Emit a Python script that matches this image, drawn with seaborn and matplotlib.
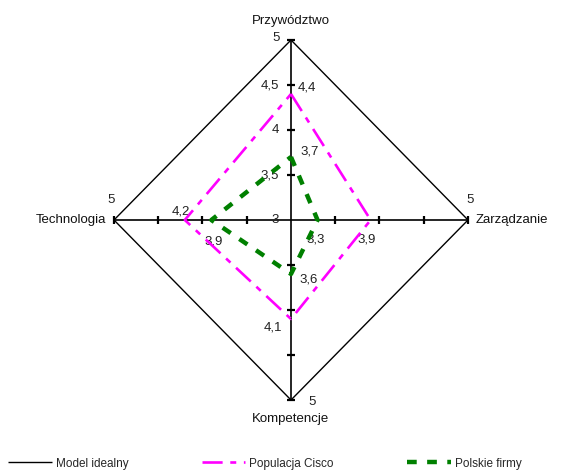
import numpy as np
import pandas as pd
import matplotlib
matplotlib.use("Agg")
import matplotlib.pyplot as plt
import seaborn as sns

# ---- data ----
categories = ["Przywództwo", "Zarządzanie", "Kompetencje", "Technologia"]
model_idealny = [5, 5, 5, 5]
populacja_cisco = [4.4, 3.9, 4.1, 4.2]
polskie_firmy = [3.7, 3.3, 3.6, 3.9]
series_names = ["Model idealny", "Populacja Cisco", "Polskie firmy"]
scale_ticks = [3, 3.5, 4, 4.5, 5]
scale_labels = ["3", "3,5", "4", "4,5", "5"]
r_min, r_max = 3, 5

sns.set_theme(style="white")
plt.rcParams["font.family"] = ["Liberation Sans", "DejaVu Sans"]
plt.rcParams["lines.scale_dashes"] = False

# axis directions: top, right, bottom, left
angles = np.array([np.pi / 2, 0.0, -np.pi / 2, np.pi])
dx, dy = np.cos(angles).round(6), np.sin(angles).round(6)


def to_xy(values):
    r = np.asarray(values, dtype=float) - r_min
    x = np.append(r * dx, r[0] * dx[0])
    y = np.append(r * dy, r[0] * dy[0])
    return x, y


fig = plt.figure(figsize=(5.74, 4.70), dpi=100)
ax = fig.add_axes([0, 0, 1, 1])
# pixel scale: horizontal 88.5 px / unit, vertical 90 px / unit, centre (291, 220)
ax.set_xlim(-291 / 88.5, (574 - 291) / 88.5)
ax.set_ylim(-(470 - 220) / 90, 220 / 90)
ax.axis("off")

R = r_max - r_min
# axes lines
ax.plot([0, 0], [-R, R], color="black", lw=1.2, zorder=2)
ax.plot([-R, R], [0, 0], color="black", lw=1.2, zorder=2)
# tick marks
tick_r = np.array(scale_ticks[1:]) - r_min
ax.plot(np.zeros_like(tick_r), tick_r, ls="none", marker="_", ms=6, mew=1.6, color="black", zorder=3)
ax.plot(np.zeros_like(tick_r), -tick_r, ls="none", marker="_", ms=6, mew=1.6, color="black", zorder=3)
ax.plot(tick_r, np.zeros_like(tick_r), ls="none", marker="|", ms=6, mew=1.6, color="black", zorder=3)
ax.plot(-tick_r, np.zeros_like(tick_r), ls="none", marker="|", ms=6, mew=1.6, color="black", zorder=3)

# scale labels on top axis
for t, lab in zip(scale_ticks[:-1], scale_labels[:-1]):
    ax.annotate(lab, (0, t - r_min), xytext=(-12, 0), textcoords="offset pixels",
                ha="right", va="center", fontsize=9.5, color="#222222")

# series
styles = [
    dict(color="black", lw=1.0, ls="-"),
    dict(color="#ff00ff", lw=1.9, ls=(0, (14.5, 5.5, 4.3, 5.5))),
    dict(color="#008000", lw=3.2, ls=(0, (7, 7.5))),
]
for name, vals, st in zip(series_names, [model_idealny, populacja_cisco, polskie_firmy], styles):
    x, y = to_xy(vals)
    df = pd.DataFrame({"x": x, "y": y})
    sns.lineplot(data=df, x="x", y="y", sort=False, estimator=None, ax=ax,
                 color=st["color"], linewidth=st["lw"], linestyle=st["ls"],
                 label=name, zorder=4)
for line in ax.lines:
    line.set_solid_capstyle("butt")
    line.set_dash_capstyle("butt")

# category labels
cat_pos = [(0, R, 0, 19, "center"), (R, 0, 8, 0, "left"), (0, -R, 0, -19, "center"), (-R, 0, -8, 0, "left")]
for cat, (px, py, ox, oy, ha) in zip(categories, cat_pos):
    ha = "right" if ox < 0 else ("left" if ox > 0 else "center")
    ax.annotate(cat, (px, py), xytext=(ox, oy), textcoords="offset pixels",
                ha=ha, va="center", fontsize=9.5, color="#111111")

# outer "5" labels
five_off = [(-15, 2), (2, 20), (21, -2), (-3, 20)]
for (ox, oy), ddx, ddy in zip(five_off, dx, dy):
    ax.annotate(scale_labels[-1], (ddx * R, ddy * R), xytext=(ox, oy), textcoords="offset pixels",
                ha="center", va="center", fontsize=9.5, color="#222222")

# value labels
cisco_off = [(16, 6), (-4, -20), (-18, -8), (-4, 9)]
firmy_off = [(19, 6), (-2, -20), (18, -6), (2, -21)]
for vals, offs in [(populacja_cisco, cisco_off), (polskie_firmy, firmy_off)]:
    for v, (ox, oy), ddx, ddy in zip(vals, offs, dx, dy):
        ax.annotate(f"{v:.1f}".replace(".", ","), ((v - r_min) * ddx, (v - r_min) * ddy),
                    xytext=(ox, oy), textcoords="offset pixels",
                    ha="center", va="center", fontsize=9.5, color="#222222")

leg = ax.legend(loc="lower left", bbox_to_anchor=(8 / 574, 0.5 / 470), ncol=3, frameon=False,
                fontsize=8.5, handlelength=3.7, handletextpad=0.34, columnspacing=6.2,
                borderpad=0, borderaxespad=0)

fig.savefig("out.png", dpi=100)
